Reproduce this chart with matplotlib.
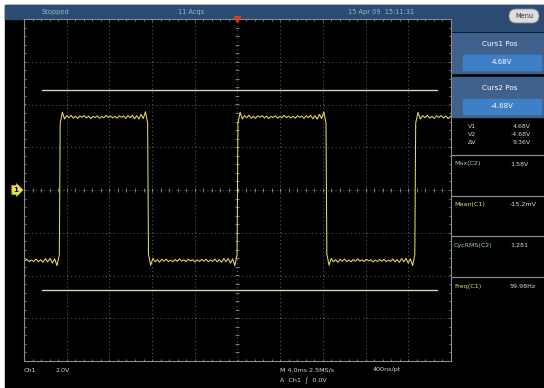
#!/usr/bin/env python3
"""Oscilloscope screen capture: Ch1 square wave with two horizontal cursors."""

import numpy as np
import matplotlib
matplotlib.use("Agg")
import matplotlib.pyplot as plt
from matplotlib.patches import Rectangle, FancyBboxPatch

# --- values ----------------------------------------------------------------
volts_per_div = 2.0
ms_per_div = 4.0
edge_times_ms = [-16.65, -8.38, 0.0, 8.33, 16.65]   # rise, fall, rise, fall, rise
level_high = 3.42
level_low = -3.30
start_level = "low"
# ripple on each plateau (V), hand read: spikes at both ends, small noise between
plateau_ripple = [-0.30, 0.22, -0.10, 0.06, -0.04, 0.08, -0.06, 0.03, -0.07,
                  0.05, -0.02, 0.06, -0.05, 0.04, -0.08, 0.03, -0.03, 0.05,
                  -0.06, 0.02, -0.04, 0.07, -0.03, 0.04, -0.05, 0.03, -0.06,
                  0.05, -0.02, 0.04, -0.07, 0.06, -0.04, 0.08, -0.09, 0.06,
                  -0.10, 0.12, -0.08, 0.24, -0.28]
cursor_levels = [4.68, -4.68]
trigger_time_ms = 0.0

top_bar = ["Stopped", "11 Acqs", "15 Apr 09  15:11:31"]
cursor_boxes = [("Curs1 Pos", "4.68V"), ("Curs2 Pos", "-4.68V")]
cursor_readout = [("V1", "4.68V"), ("V2", "-4.68V"), ("ΔV", "9.36V")]
measurements = [("Max(C2)", "1.58V", "#8fd0b8"),
                ("Mean(C1)", "-15.2mV", "#e8e070"),
                ("CycRMS(C2)", "1.281", "#8fd0b8"),
                ("Freq(C1)", "59.98Hz", "#e8e070")]
bottom_left = ["Ch1", "2.0V"]
bottom_mid = ["M 4.0ms 2.5MS/s", "400ns/pt", "A  Ch1  ∫  0.0V"]

TRACE = "#e6dc55"
CURSOR = "#d8d2b0"
GRID = "#666666"
BLUE_BAR = "#2b4b72"
PANEL = "#40618c"
VALUE_BOX = "#3d80c8"
TXT = "#d8d8d8"

W, H = 544, 388
fig = plt.figure(figsize=(W / 100, H / 100), dpi=100, facecolor="white")

# ---- screen furniture, in pixel coordinates -------------------------------
ui = fig.add_axes([0, 0, 1, 1])
ui.set_xlim(0, W)
ui.set_ylim(H, 0)
ui.axis("off")
ui.add_patch(Rectangle((5, 5), W - 5, H - 5, color="black"))
ui.add_patch(Rectangle((5, 5), 447, 14, color=BLUE_BAR))
ui.add_patch(Rectangle((452, 5), W - 452, 26, color=BLUE_BAR))
for x, s in zip([42, 178, 348], top_bar):
    ui.text(x, 12, s, color="#9fb4cc", fontsize=4.8, va="center")
ui.add_patch(FancyBboxPatch((509, 9), 30, 14, boxstyle="round,pad=0,rounding_size=7",
                            fc="#dcdcdc", ec="#8a8a8a", lw=0.6))
ui.text(524, 16, "Menu", color="#303030", fontsize=4.8, ha="center", va="center")

for i, (head, val) in enumerate(cursor_boxes):
    y0 = 33 + i * 44
    ui.add_patch(Rectangle((452, y0), W - 452, 40, color=PANEL))
    ui.text(500, y0 + 11, head, color="white", fontsize=5.2, ha="center", va="center")
    ui.add_patch(Rectangle((463, y0 + 22), 78, 15, color=VALUE_BOX))
    ui.text(502, y0 + 29.5, val, color="white", fontsize=5, ha="center", va="center")
for i, (lab, val) in enumerate(cursor_readout):
    y = 127 + i * 7.5
    ui.text(468, y, lab, color=TXT, fontsize=4.5, va="center")
    ui.text(531, y, val, color=TXT, fontsize=4.5, va="center", ha="right")
for i, (lab, val, col) in enumerate(measurements):
    y = 155 + i * 40.7
    ui.plot([452, W], [y, y], color="#8a8a8a", lw=0.9)
    ui.text(454, y + 9, lab, color=col, fontsize=4.6, va="center")
    ui.text(510, y + 9, val, color=TXT, fontsize=4.6, va="center")

ui.text(24, 370, bottom_left[0], color=TXT, fontsize=4.6, va="center")
ui.text(56, 370, bottom_left[1], color=TXT, fontsize=4.6, va="center")
ui.text(280, 370, bottom_mid[0], color=TXT, fontsize=4.6, va="center")
ui.text(373, 370, bottom_mid[1], color=TXT, fontsize=4.6, va="center")
ui.text(280, 381, bottom_mid[2], color=TXT, fontsize=4.6, va="center")

# ---- graticule ------------------------------------------------------------
ax = fig.add_axes([24 / W, (H - 361) / H, 427 / W, 342 / H])
ax.set_facecolor("black")
xmax = 5 * ms_per_div
ymax = 4 * volts_per_div
ax.set_xlim(-xmax, xmax)
ax.set_ylim(-ymax, ymax)
ax.set_xticks(np.arange(-xmax, xmax + 0.1, ms_per_div))
ax.set_yticks(np.arange(-ymax, ymax + 0.1, volts_per_div))
ax.tick_params(length=0, labelbottom=False, labelleft=False)
ax.grid(color=GRID, ls=(0, (1, 3)), lw=0.7)
for sp in ax.spines.values():
    sp.set_color("#8c8c8c")
    sp.set_linewidth(0.8)

minor_x = np.arange(-xmax, xmax + 0.01, ms_per_div / 5)
minor_y = np.arange(-ymax, ymax + 0.01, volts_per_div / 5)
for yy in (0, -ymax, ymax):
    ax.plot(minor_x, np.full_like(minor_x, yy), ls="none", marker="|",
            ms=3, mew=0.6, color="#8c8c8c")
for xx in (0, -xmax, xmax):
    ax.plot(np.full_like(minor_y, xx), minor_y, ls="none", marker="_",
            ms=3, mew=0.6, color="#8c8c8c")

# cursors
for lvl in cursor_levels:
    ax.plot([-xmax + 0.42 * ms_per_div, xmax - 0.33 * ms_per_div], [lvl, lvl],
            color=CURSOR, lw=1.0)

# square-wave trace built from the edges, levels and plateau ripple
bounds = [-xmax] + edge_times_ms + [xmax]
ripple = np.array(plateau_ripple)
lvl = level_low if start_level == "low" else level_high
t_all, v_all = [], []
for a, b in zip(bounds[:-1], bounds[1:]):
    sign = 1 if lvl == level_high else -1
    n = len(ripple)
    if b - a < 6:
        n = max(6, int(n * (b - a) / 8.3))
    r = ripple[-n:] if a == -xmax else ripple[:n]
    t_all.extend(np.linspace(a + 0.04, b - 0.04, n))
    v_all.extend(lvl + sign * r)
    lvl = level_low if lvl == level_high else level_high
ax.plot(t_all, v_all, color=TRACE, lw=0.75)

# trigger position and channel marker
ax.plot([trigger_time_ms], [ymax], marker="v", ms=4, color="#e03a20",
        clip_on=False, zorder=5)
ax.text(-xmax - 0.55, 0, "1", fontsize=5, color="black", ha="right", va="center",
        fontweight="bold", clip_on=False,
        bbox=dict(boxstyle="rarrow,pad=0.25", fc="#e8e040", ec="none"))

fig.savefig("out.png", dpi=100, facecolor=fig.get_facecolor())
